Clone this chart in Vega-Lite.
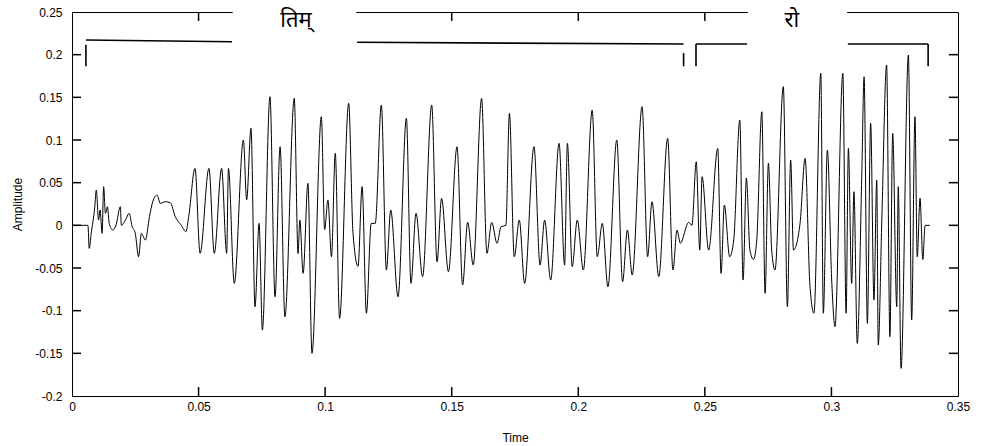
{
  "$schema": "https://vega.github.io/schema/vega-lite/v6.json",
  "width": 886,
  "height": 384,
  "autosize": "none",
  "padding": {"left": 72, "top": 12, "right": 26, "bottom": 50},
  "background": "white",
  "config": {
    "view": {"stroke": "#000000", "strokeWidth": 1},
    "font": "Liberation Sans",
    "axis": {"grid": false, "domain": false, "ticks": false, "labelFont": "Liberation Sans", "titleFont": "Liberation Sans", "labelColor": "#000", "titleColor": "#000", "labelFontSize": 12, "titleFontSize": 12, "titleFontWeight": "normal", "labelFlush": false, "labelOverlap": false}
  },
  "datasets": {
    "wave": [
      {"t": 0, "a": 0}, {"t": 0.0063, "a": 0}, {"t": 0.0068, "a": -0.027}, {"t": 0.0076, "a": -0.0094},
      {"t": 0.009, "a": 0.0218}, {"t": 0.0096, "a": 0.0414}, {"t": 0.0105, "a": 0.0062}, {"t": 0.0111, "a": 0.018},
      {"t": 0.0119, "a": -0.0094}, {"t": 0.0125, "a": 0.0453}, {"t": 0.0132, "a": 0.014}, {"t": 0.014, "a": 0.0218},
      {"t": 0.0147, "a": 0.0023}, {"t": 0.0161, "a": -0.0055}, {"t": 0.0174, "a": 0.0004}, {"t": 0.0191, "a": 0.0218},
      {"t": 0.0195, "a": 0}, {"t": 0.0211, "a": 0.0062}, {"t": 0.0226, "a": 0.014}, {"t": 0.0237, "a": -0.0008},
      {"t": 0.025, "a": -0.0094}, {"t": 0.0263, "a": -0.0368}, {"t": 0.0274, "a": -0.0094}, {"t": 0.029, "a": -0.0172},
      {"t": 0.0306, "a": 0.0101}, {"t": 0.0319, "a": 0.0277}, {"t": 0.0336, "a": 0.0355}, {"t": 0.0349, "a": 0.0258},
      {"t": 0.0369, "a": 0.0277}, {"t": 0.0388, "a": 0.0266}, {"t": 0.0408, "a": 0.0101}, {"t": 0.0432, "a": 0},
      {"t": 0.045, "a": -0.0075}, {"t": 0.0461, "a": 0.0101},
      {"t": 0.0486, "a": 0.0668}, {"t": 0.0506, "a": -0.0328}, {"t": 0.0541, "a": 0.0668}, {"t": 0.0562, "a": -0.0328},
      {"t": 0.0591, "a": 0.0668}, {"t": 0.0611, "a": -0.0328}, {"t": 0.0618, "a": 0.0668}, {"t": 0.0641, "a": -0.068},
      {"t": 0.0677, "a": 0.1}, {"t": 0.069, "a": 0.03}, {"t": 0.0707, "a": 0.1137}, {"t": 0.0723, "a": -0.0954},
      {"t": 0.0739, "a": 0.0023}, {"t": 0.0752, "a": -0.1227}, {"t": 0.0782, "a": 0.1507}, {"t": 0.0802, "a": -0.0837},
      {"t": 0.0822, "a": 0.0921}, {"t": 0.0841, "a": -0.1071}, {"t": 0.0878, "a": 0.1488},
      {"t": 0.0893, "a": -0.033}, {"t": 0.09, "a": 0.0062}, {"t": 0.0913, "a": -0.0563}, {"t": 0.0932, "a": 0.0492},
      {"t": 0.0948, "a": -0.15}, {"t": 0.0985, "a": 0.1273}, {"t": 0.0998, "a": -0.005}, {"t": 0.1011, "a": 0.0297},
      {"t": 0.1025, "a": -0.0368}, {"t": 0.104, "a": 0.0844}, {"t": 0.1057, "a": -0.109}, {"t": 0.1093, "a": 0.143},
      {"t": 0.111, "a": -0.009}, {"t": 0.113, "a": -0.048}, {"t": 0.1146, "a": 0.0453}, {"t": 0.1163, "a": -0.103},
      {"t": 0.1182, "a": 0.0023}, {"t": 0.1198, "a": 0.0023}, {"t": 0.1222, "a": 0.141}, {"t": 0.1242, "a": -0.0524},
      {"t": 0.1259, "a": 0.018}, {"t": 0.1288, "a": -0.0837}, {"t": 0.1321, "a": 0.1254},
      {"t": 0.1339, "a": -0.068}, {"t": 0.1359, "a": 0.014}, {"t": 0.1385, "a": -0.06}, {"t": 0.1421, "a": 0.141},
      {"t": 0.1442, "a": -0.0427}, {"t": 0.146, "a": 0.0316}, {"t": 0.1487, "a": -0.0544}, {"t": 0.1521, "a": 0.0921},
      {"t": 0.1543, "a": -0.07}, {"t": 0.1563, "a": 0.0035}, {"t": 0.1585, "a": -0.0465}, {"t": 0.1618, "a": 0.1488},
      {"t": 0.1639, "a": -0.0328}, {"t": 0.1658, "a": 0.0035}, {"t": 0.1679, "a": -0.0211}, {"t": 0.1695, "a": -0.0016},
      {"t": 0.1714, "a": 0}, {"t": 0.1728, "a": 0.1313}, {"t": 0.1747, "a": -0.0368}, {"t": 0.1767, "a": 0.0062},
      {"t": 0.1788, "a": -0.068}, {"t": 0.1825, "a": 0.0921}, {"t": 0.1849, "a": -0.0466}, {"t": 0.1867, "a": 0.0062},
      {"t": 0.1891, "a": -0.0641}, {"t": 0.1924, "a": 0.0961}, {"t": 0.1946, "a": -0.0466}, {"t": 0.1957, "a": 0.0961},
      {"t": 0.1976, "a": -0.0485}, {"t": 0.1996, "a": 0.0062}, {"t": 0.202, "a": -0.0524}, {"t": 0.2055, "a": 0.1351},
      {"t": 0.2075, "a": -0.0368}, {"t": 0.2095, "a": 0.0023}, {"t": 0.2117, "a": -0.072}, {"t": 0.2152, "a": 0.1},
      {"t": 0.2175, "a": -0.0661}, {"t": 0.2194, "a": -0.0055}, {"t": 0.2213, "a": -0.0582},
      {"t": 0.2252, "a": 0.139}, {"t": 0.2274, "a": -0.0368}, {"t": 0.2291, "a": 0.0277}, {"t": 0.2318, "a": -0.06},
      {"t": 0.2353, "a": 0.102}, {"t": 0.2374, "a": -0.0524}, {"t": 0.239, "a": -0.0055}, {"t": 0.2403, "a": -0.021},
      {"t": 0.2436, "a": 0.0035}, {"t": 0.2449, "a": 0}, {"t": 0.2466, "a": 0.0745}, {"t": 0.248, "a": -0.029},
      {"t": 0.2489, "a": 0.057}, {"t": 0.2515, "a": -0.029}, {"t": 0.2551, "a": 0.0902}, {"t": 0.2564, "a": -0.0563},
      {"t": 0.2577, "a": 0.0238}, {"t": 0.2598, "a": -0.0368}, {"t": 0.2614, "a": -0.0172}, {"t": 0.2638, "a": 0.1234},
      {"t": 0.2651, "a": -0.0641}, {"t": 0.2664, "a": 0.0555},
      {"t": 0.2678, "a": -0.029}, {"t": 0.2692, "a": -0.04}, {"t": 0.2705, "a": -0.0172}, {"t": 0.2725, "a": 0.1331},
      {"t": 0.2738, "a": -0.0797}, {"t": 0.2751, "a": 0.0727}, {"t": 0.2764, "a": -0.029}, {"t": 0.2777, "a": -0.0524},
      {"t": 0.281, "a": 0.1625}, {"t": 0.2826, "a": -0.0954}, {"t": 0.2839, "a": 0.0765}, {"t": 0.285, "a": -0.029},
      {"t": 0.2876, "a": 0.0023}, {"t": 0.2896, "a": 0.0785}, {"t": 0.2915, "a": -0.07}, {"t": 0.2931, "a": -0.103},
      {"t": 0.2958, "a": 0.1781}, {"t": 0.2968, "a": -0.103}, {"t": 0.2984, "a": 0.0882}, {"t": 0.3001, "a": -0.064},
      {"t": 0.3014, "a": -0.1188},
      {"t": 0.3045, "a": 0.1781}, {"t": 0.3058, "a": -0.103}, {"t": 0.3067, "a": 0.0902}, {"t": 0.308, "a": -0.068},
      {"t": 0.3089, "a": 0.0394}, {"t": 0.3102, "a": -0.1383}, {"t": 0.312, "a": 0.0609}, {"t": 0.3129, "a": 0.1741},
      {"t": 0.3142, "a": -0.1148}, {"t": 0.3155, "a": 0.1195}, {"t": 0.3168, "a": -0.0875}, {"t": 0.3179, "a": 0.0531},
      {"t": 0.3185, "a": -0.1403}, {"t": 0.3199, "a": 0.0062}, {"t": 0.3218, "a": 0.1879}, {"t": 0.3231, "a": -0.1305},
      {"t": 0.3242, "a": 0.1078}, {"t": 0.3258, "a": -0.0954}, {"t": 0.3264, "a": 0.0453}, {"t": 0.3275, "a": -0.1676},
      {"t": 0.3304, "a": 0.1996}, {"t": 0.3317, "a": -0.111}, {"t": 0.333, "a": 0.1273}, {"t": 0.3339, "a": -0.0368},
      {"t": 0.335, "a": 0.0316}, {"t": 0.3361, "a": -0.04}, {"t": 0.337, "a": 0}, {"t": 0.3389, "a": 0}
    ],
    "brackets": [
      {"x1": 0.0055, "y1": 0.2172, "x2": 0.0632, "y2": 0.2152},
      {"x1": 0.0055, "y1": 0.2115, "x2": 0.0055, "y2": 0.1864},
      {"x1": 0.1126, "y1": 0.2145, "x2": 0.2416, "y2": 0.2125},
      {"x1": 0.2416, "y1": 0.2019, "x2": 0.2416, "y2": 0.1864},
      {"x1": 0.2465, "y1": 0.2125, "x2": 0.2667, "y2": 0.2125},
      {"x1": 0.2465, "y1": 0.2125, "x2": 0.2465, "y2": 0.1864},
      {"x1": 0.3065, "y1": 0.2125, "x2": 0.3382, "y2": 0.2125},
      {"x1": 0.3382, "y1": 0.2125, "x2": 0.3382, "y2": 0.1864}
    ],
    "ticks": [
      {"x1": 0.05, "x2": 0.05, "y1": -0.2, "y2": -0.1895}, {"x1": 0.1, "x2": 0.1, "y1": -0.2, "y2": -0.1895},
      {"x1": 0.15, "x2": 0.15, "y1": -0.2, "y2": -0.1895}, {"x1": 0.2, "x2": 0.2, "y1": -0.2, "y2": -0.1895},
      {"x1": 0.25, "x2": 0.25, "y1": -0.2, "y2": -0.1895}, {"x1": 0.3, "x2": 0.3, "y1": -0.2, "y2": -0.1895},
      {"x1": 0.05, "x2": 0.05, "y1": 0.25, "y2": 0.2395}, {"x1": 0.1, "x2": 0.1, "y1": 0.25, "y2": 0.2395},
      {"x1": 0.15, "x2": 0.15, "y1": 0.25, "y2": 0.2395}, {"x1": 0.2, "x2": 0.2, "y1": 0.25, "y2": 0.2395},
      {"x1": 0.25, "x2": 0.25, "y1": 0.25, "y2": 0.2395}, {"x1": 0.3, "x2": 0.3, "y1": 0.25, "y2": 0.2395},
      {"x1": 0, "x2": 0.0036, "y1": -0.15, "y2": -0.15}, {"x1": 0, "x2": 0.0036, "y1": -0.1, "y2": -0.1},
      {"x1": 0, "x2": 0.0036, "y1": -0.05, "y2": -0.05}, {"x1": 0, "x2": 0.0036, "y1": 0, "y2": 0},
      {"x1": 0, "x2": 0.0036, "y1": 0.05, "y2": 0.05}, {"x1": 0, "x2": 0.0036, "y1": 0.1, "y2": 0.1},
      {"x1": 0, "x2": 0.0036, "y1": 0.15, "y2": 0.15}, {"x1": 0, "x2": 0.0036, "y1": 0.2, "y2": 0.2},
      {"x1": 0.35, "x2": 0.3464, "y1": -0.15, "y2": -0.15}, {"x1": 0.35, "x2": 0.3464, "y1": -0.1, "y2": -0.1},
      {"x1": 0.35, "x2": 0.3464, "y1": -0.05, "y2": -0.05}, {"x1": 0.35, "x2": 0.3464, "y1": 0, "y2": 0},
      {"x1": 0.35, "x2": 0.3464, "y1": 0.05, "y2": 0.05}, {"x1": 0.35, "x2": 0.3464, "y1": 0.1, "y2": 0.1},
      {"x1": 0.35, "x2": 0.3464, "y1": 0.15, "y2": 0.15}, {"x1": 0.35, "x2": 0.3464, "y1": 0.2, "y2": 0.2}
    ],
    "boxes": [
      {"x1": 0.0635, "x2": 0.1123, "y1": 0.222, "y2": 0.262},
      {"x1": 0.267, "x2": 0.3062, "y1": 0.222, "y2": 0.262}
    ],
    "labels": [
      {"t": 0.0885, "a": 0.2406, "label": "तिम्"},
      {"t": 0.2844, "a": 0.2406, "label": "रो"}
    ]
  },
  "layer": [
    {
      "data": {"name": "wave"},
      "mark": {"type": "line", "color": "#000000", "strokeWidth": 1, "clip": false, "interpolate": "monotone"},
      "encoding": {
        "x": {"field": "t", "type": "quantitative", "scale": {"domain": [0, 0.35], "nice": false, "zero": false},
          "axis": {"orient": "bottom", "title": "Time", "values": [0, 0.05, 0.1, 0.15, 0.2, 0.25, 0.3, 0.35], "labelExpr": "replace(format(datum.value, '.2~f'), '\u2212', '-')", "labelPadding": 5, "titlePadding": 20}},
        "y": {"field": "a", "type": "quantitative", "scale": {"domain": [-0.2, 0.25], "nice": false, "zero": false},
          "axis": {"orient": "left", "title": "Amplitude", "values": [-0.2, -0.15, -0.1, -0.05, 0, 0.05, 0.1, 0.15, 0.2, 0.25], "labelExpr": "replace(format(datum.value, '.2~f'), '\u2212', '-')", "labelPadding": 10, "titlePadding": 10}}
      }
    },
    {
      "data": {"name": "ticks"},
      "mark": {"type": "rule", "color": "#000000", "strokeWidth": 1.5},
      "encoding": {
        "x": {"field": "x1", "type": "quantitative"},
        "y": {"field": "y1", "type": "quantitative"},
        "x2": {"field": "x2"},
        "y2": {"field": "y2"}
      }
    },
    {
      "data": {"name": "brackets"},
      "mark": {"type": "rule", "color": "#000000", "strokeWidth": 1.6},
      "encoding": {
        "x": {"field": "x1", "type": "quantitative"},
        "y": {"field": "y1", "type": "quantitative"},
        "x2": {"field": "x2"},
        "y2": {"field": "y2"}
      }
    },
    {
      "data": {"name": "boxes"},
      "mark": {"type": "rect", "color": "#ffffff", "opacity": 1},
      "encoding": {
        "x": {"field": "x1", "type": "quantitative"},
        "x2": {"field": "x2"},
        "y": {"field": "y1", "type": "quantitative"},
        "y2": {"field": "y2"}
      }
    },
    {
      "data": {"name": "labels"},
      "mark": {"type": "text", "fontSize": 22, "color": "#000000", "font": "Noto Sans", "align": "center", "baseline": "middle"},
      "encoding": {
        "x": {"field": "t", "type": "quantitative"},
        "y": {"field": "a", "type": "quantitative"},
        "text": {"field": "label"}
      }
    }
  ]
}
